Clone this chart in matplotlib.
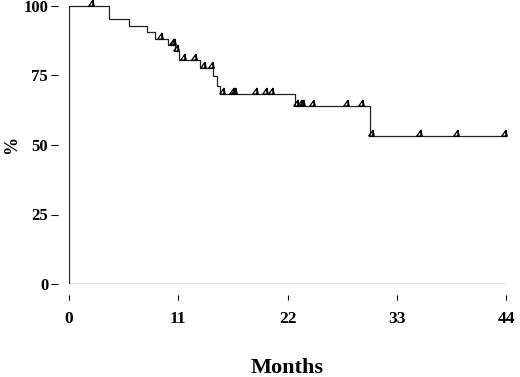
import matplotlib
matplotlib.use('Agg')
import matplotlib.pyplot as plt
from matplotlib.path import Path

# Kaplan-Meier curve
step_times = [0, 4.0, 6.0, 7.85, 8.7, 10.0, 10.7, 11.1, 13.2, 14.5, 14.9, 15.2, 22.8, 30.3]
step_surv = [100, 95.2, 92.7, 90.5, 88.2, 85.9, 83.7, 80.5, 77.8, 74.8, 71.3, 68.3, 63.9, 53.4]
follow_up_end = 44

censor_times = [2.2, 9.2, 10.4, 10.5, 10.8, 11.5, 12.6, 13.5, 14.3, 15.4, 16.4, 16.6,
                18.7, 19.7, 20.3, 22.9, 23.3, 23.5, 24.5, 27.9, 29.4, 30.4, 35.2, 39.0, 43.8]
censor_surv = [100, 88.2, 85.9, 85.9, 83.7, 80.5, 80.5, 77.8, 77.8, 68.3, 68.3, 68.3,
               68.3, 68.3, 68.3, 63.9, 63.9, 63.9, 63.9, 63.9, 63.9, 53.4, 53.4, 53.4, 53.4]

x_ticks = [0, 11, 22, 33, 44]
y_ticks = [0, 25, 50, 75, 100]

plt.rcParams['font.family'] = ['Liberation Serif', 'DejaVu Serif']
plt.rcParams['font.weight'] = 'bold'

fig = plt.figure(figsize=(5.2, 3.77), dpi=100)
ax = fig.add_axes([69 / 520, 1 - 284 / 377, 437 / 520, 278 / 377])

line_col = '#222222'

# step curve
ax.step(step_times + [follow_up_end], step_surv + [step_surv[-1]], where='post',
        color=line_col, lw=0.9, clip_on=False)

# censor mark: a small "4"-like glyph sitting on the line
tick_mark = Path([(-0.8, 0.1), (0.8, 0.1), (0.4, 1.8), (-0.8, 0.1), (0.4, 1.8), (0.4, 0.0)],
                 [Path.MOVETO, Path.LINETO, Path.LINETO, Path.LINETO, Path.MOVETO, Path.LINETO])
ax.plot(censor_times, censor_surv, linestyle='none', marker=tick_mark, markersize=9,
        markerfacecolor='none', markeredgecolor='black', markeredgewidth=0.9, clip_on=False)

# frame lines at 0
ax.axhline(0, color=line_col, lw=0.9)
ax.axvline(0, color=line_col, lw=0.9)

ax.set_xlim(0, 44)
ax.set_ylim(0, 100)

for s in ax.spines.values():
    s.set_visible(False)
ax.spines['bottom'].set_position(('outward', 8))
ax.spines['left'].set_position(('outward', 8))

ax.set_xticks(x_ticks)
ax.set_yticks(y_ticks)
ax.tick_params(axis='x', direction='out', length=3.6, width=0.8, pad=8, labelsize=12.5)
ax.tick_params(axis='y', direction='out', length=5, width=0.8, pad=2, labelsize=12)
for lab in ax.get_xticklabels() + ax.get_yticklabels():
    lab.set_fontweight('bold')

fig.text(287.5 / 520, 1 - 368 / 377, 'Months', ha='center', va='center',
         fontsize=16, fontweight='bold')
fig.text(12 / 520, 1 - 145 / 377, '%', ha='center', va='center', rotation=90,
         fontsize=13, fontweight='bold')

fig.savefig('out.png', dpi=100)
